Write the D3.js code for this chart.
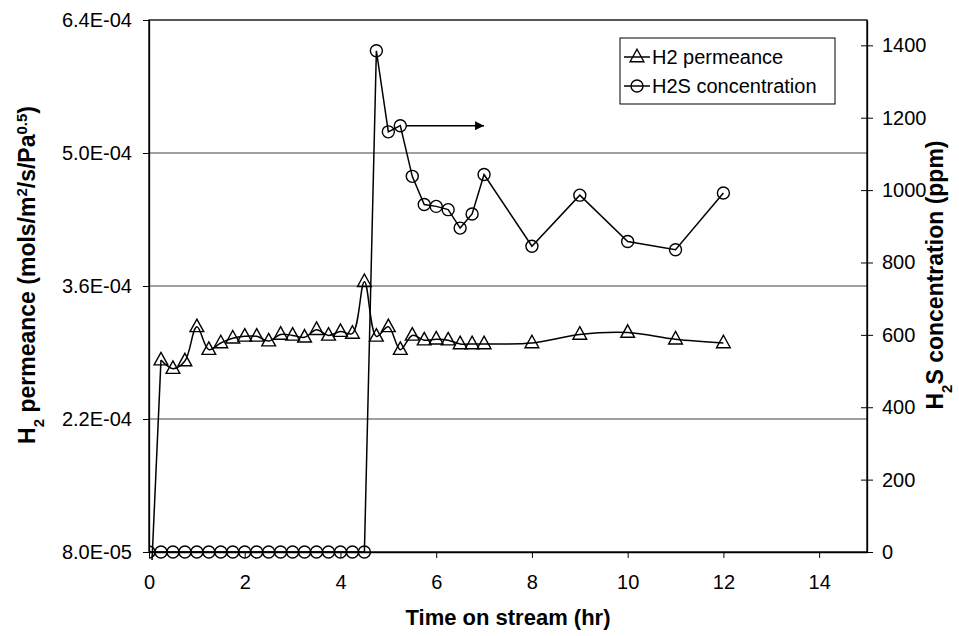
<!DOCTYPE html>
<html><head><meta charset="utf-8">
<script src="https://cdn.jsdelivr.net/npm/d3@7"></script>
<style>
body{margin:0;background:#fff;}
text{font-family:"Liberation Sans",Arial,sans-serif;fill:#000;}
</style></head><body>
<svg id="chart" width="959" height="636"></svg>
<script>
// H2 permeance (mols/m2/s/Pa^0.5) vs time on stream (hr)
const h2Time = [0,0.25,0.5,0.75,1,1.25,1.5,1.75,2,2.25,2.5,2.75,3,3.25,3.5,3.75,4,4.25,4.5,4.75,5,5.25,5.5,5.75,6,6.25,6.5,6.75,7,8,9,10,11,12];
const h2Perm = [0,2.82e-4,2.73e-4,2.81e-4,3.17e-4,2.93e-4,3.00e-4,3.05e-4,3.07e-4,3.07e-4,3.02e-4,3.09e-4,3.08e-4,3.06e-4,3.14e-4,3.08e-4,3.12e-4,3.10e-4,3.645e-4,3.07e-4,3.17e-4,2.93e-4,3.08e-4,3.03e-4,3.04e-4,3.03e-4,2.99e-4,2.99e-4,2.99e-4,3.00e-4,3.09e-4,3.11e-4,3.04e-4,3.00e-4];
// H2S concentration (ppm) vs time on stream (hr)
const h2sTime = [0,0.25,0.5,0.75,1,1.25,1.5,1.75,2,2.25,2.5,2.75,3,3.25,3.5,3.75,4,4.25,4.5,4.75,5,5.25,5.5,5.75,6,6.25,6.5,6.75,7,8,9,10,11,12];
const h2sConc = [0,0,0,0,0,0,0,0,0,0,0,0,0,0,0,0,0,0,0,1385,1161,1178,1038,960,955,946,895,934,1043,845,986,858,835,992];

const xTicks = [0,2,4,6,8,10,12,14];
const leftTicks = [8.0e-5,2.2e-4,3.6e-4,5.0e-4,6.4e-4];
const rightTicks = [0,200,400,600,800,1000,1200,1400];
const legendLabels = ["H2 permeance","H2S concentration"];
// arrow pointing to the right-hand axis, starting at the 5.25 hr H2S point
const arrowFromTime = 5.25, arrowToTime = 7.0;

const svg = d3.select("#chart");
const L = 149, R = 867, T = 20, B = 552;
const x = d3.scaleLinear().domain([0,15]).range([L,R]);
const yL = d3.scaleLinear().domain([8e-5,6.4e-4]).range([B,T]);
const yR = d3.scaleLinear().domain([0,1470]).range([B,T]);

const sciFmt = v => {
  const [m, e] = v.toExponential(1).split("e");
  const n = Math.abs(+e);
  return m + "E" + (+e < 0 ? "-" : "+") + (n < 10 ? "0" + n : n);
};

const TICK_FS = 20, TITLE_FS = 23, LEG_FS = 20;
const FONT = "Liberation Sans, Arial, sans-serif";

// gridlines at the left-axis ticks
svg.append("g").selectAll("line").data(leftTicks.slice(1,-1)).join("line")
  .attr("x1",L).attr("x2",R).attr("y1",d=>yL(d)).attr("y2",d=>yL(d))
  .attr("stroke","#808080").attr("stroke-width",1.3);

// plot border
svg.append("rect").attr("x",L).attr("y",T).attr("width",R-L).attr("height",B-T)
  .attr("fill","none").attr("stroke","#000").attr("stroke-width",1.3);

// axes
const gx = svg.append("g").attr("transform",`translate(0,${B})`)
  .call(d3.axisBottom(x).tickValues(xTicks).tickSize(6).tickSizeOuter(0).tickPadding(17).tickFormat(d3.format("d")));
const gl = svg.append("g").attr("transform",`translate(${L},0)`)
  .call(d3.axisLeft(yL).tickValues(leftTicks).tickSize(6).tickSizeOuter(0).tickPadding(11).tickFormat(sciFmt));
const gr = svg.append("g").attr("transform",`translate(${R},0)`)
  .call(d3.axisRight(yR).tickValues(rightTicks).tickSize(6).tickSizeOuter(0).tickPadding(9).tickFormat(d3.format("d")));
gr.selectAll(".tick line").attr("x1",-6);
[gx,gl,gr].forEach(g=>{
  g.attr("font-size",TICK_FS).attr("font-family",FONT);
  g.selectAll("path.domain").attr("stroke","#000").attr("stroke-width",1.3);
  g.selectAll(".tick line").attr("stroke","#000").attr("stroke-width",1);
  g.selectAll(".tick text").attr("fill","#000");
});

// axis titles
svg.append("text").attr("x",(L+R)/2).attr("y",625).attr("text-anchor","middle")
  .attr("font-size",TITLE_FS-1).attr("font-weight","bold").text("Time on stream (hr)");

const titleCY = 275;
const lt = svg.append("text").attr("transform",`translate(35,${titleCY}) rotate(-90)`)
  .attr("text-anchor","middle").attr("font-size",TITLE_FS).attr("font-weight","bold");
lt.append("tspan").text("H");
lt.append("tspan").attr("baseline-shift","sub").attr("font-size",TITLE_FS*0.65).text("2");
lt.append("tspan").text(" permeance (mols/m");
lt.append("tspan").attr("baseline-shift","super").attr("font-size",TITLE_FS*0.65).text("2");
lt.append("tspan").text("/s/Pa");
lt.append("tspan").attr("baseline-shift","super").attr("font-size",TITLE_FS*0.65).text("0.5");
lt.append("tspan").text(")");

const rt = svg.append("text").attr("transform",`translate(943,${titleCY}) rotate(-90)`)
  .attr("text-anchor","middle").attr("font-size",TITLE_FS).attr("font-weight","bold");
rt.append("tspan").text("H");
rt.append("tspan").attr("baseline-shift","sub").attr("font-size",TITLE_FS*0.65).text("2");
rt.append("tspan").text("S concentration (ppm)");

// series, clipped to the plot area
svg.append("clipPath").attr("id","plotClip").append("rect")
  .attr("x",L).attr("y",T).attr("width",R-L).attr("height",B-T+8);
const plot = svg.append("g").attr("clip-path","url(#plotClip)");

const h2Pts = h2Time.map((t,i)=>[x(t), yL(h2Perm[i])]);
const h2sPts = h2sTime.map((t,i)=>[x(t), yR(h2sConc[i])]);

const triPath = s => `M0,${-s*0.62}L${s*0.55},${s*0.38}L${-s*0.55},${s*0.38}Z`;
const TRI = 12.5, CIRC_R = 6;

// start-up rise drawn straight, the rest of the permeance trace smoothed
plot.append("path").attr("d", d3.line()(h2Pts.slice(0,2)))
  .attr("fill","none").attr("stroke","#000").attr("stroke-width",1.5);
plot.append("path").attr("d", d3.line().curve(d3.curveCatmullRom.alpha(0.5))(h2Pts.slice(1)))
  .attr("fill","none").attr("stroke","#000").attr("stroke-width",1.5);
plot.append("path").attr("d", d3.line()(h2sPts))
  .attr("fill","none").attr("stroke","#000").attr("stroke-width",1.5);

plot.append("g").selectAll("path").data(h2Pts).join("path")
  .attr("transform",d=>`translate(${d[0]},${d[1]})`).attr("d",triPath(TRI))
  .attr("fill","none").attr("stroke","#000").attr("stroke-width",1.4);
plot.append("g").selectAll("circle").data(h2sPts).join("circle")
  .attr("cx",d=>d[0]).attr("cy",d=>d[1]).attr("r",CIRC_R)
  .attr("fill","none").attr("stroke","#000").attr("stroke-width",1.4);

// arrow towards the right axis
svg.append("defs").append("marker").attr("id","arrowHead")
  .attr("viewBox","0 0 10 10").attr("refX",10).attr("refY",5)
  .attr("markerWidth",12).attr("markerHeight",9).attr("markerUnits","userSpaceOnUse")
  .attr("orient","auto").append("path").attr("d","M0,0L10,5L0,10Z").attr("fill","#000");
const ai = h2sTime.indexOf(arrowFromTime);
svg.append("line").attr("x1",x(arrowFromTime)+CIRC_R).attr("x2",x(arrowToTime))
  .attr("y1",yR(h2sConc[ai])).attr("y2",yR(h2sConc[ai]))
  .attr("stroke","#000").attr("stroke-width",1.5).attr("marker-end","url(#arrowHead)");

// legend
const lgX = 620, lgY = 38, lgW = 215, lgH = 66;
const lg = svg.append("g").attr("transform",`translate(${lgX},${lgY})`);
lg.append("rect").attr("width",lgW).attr("height",lgH).attr("fill","#fff").attr("stroke","#000").attr("stroke-width",1);
legendLabels.forEach((lab,i)=>{
  const yy = 19 + i*29;
  const row = lg.append("g").attr("transform",`translate(0,${yy})`);
  row.append("line").attr("x1",4).attr("x2",30).attr("y1",0).attr("y2",0).attr("stroke","#000").attr("stroke-width",1.5);
  if(i===0) row.append("path").attr("transform","translate(17,0)").attr("d",triPath(TRI)).attr("fill","none").attr("stroke","#000").attr("stroke-width",1.4);
  else row.append("circle").attr("cx",17).attr("cy",0).attr("r",CIRC_R).attr("fill","none").attr("stroke","#000").attr("stroke-width",1.4);
  row.append("text").attr("x",32).attr("y",7).attr("font-size",LEG_FS).text(lab);
});
</script>
</body></html>
